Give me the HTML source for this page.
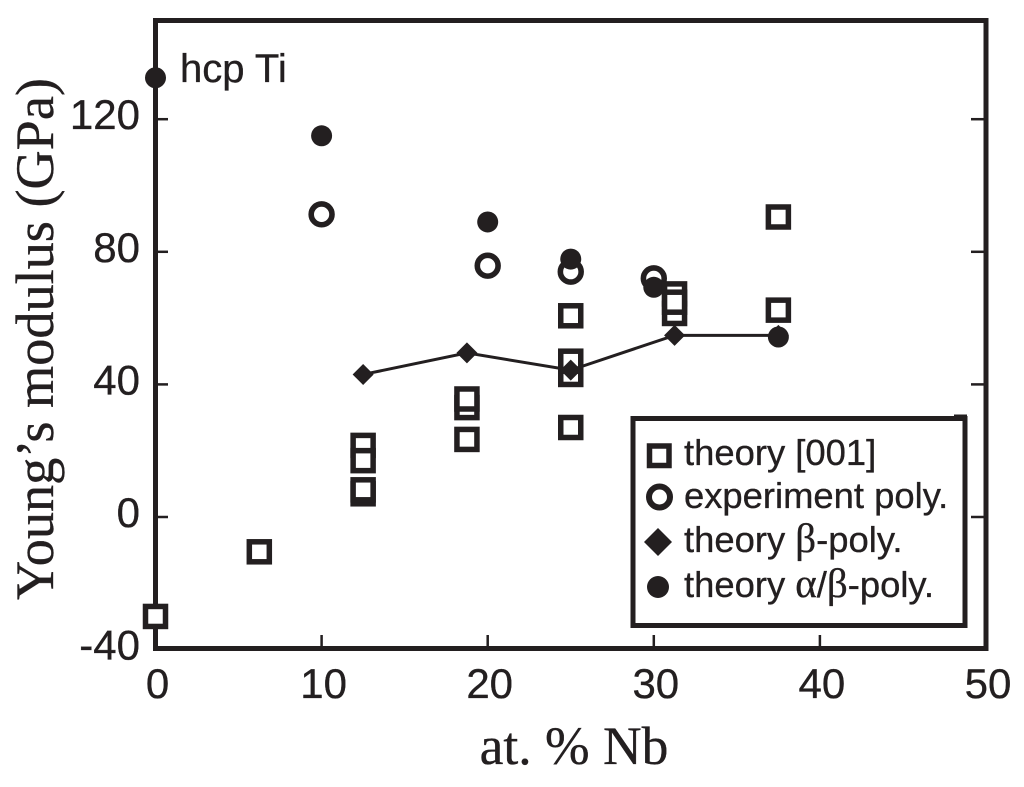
<!DOCTYPE html>
<html>
<head>
<meta charset="utf-8">
<title>Young's modulus vs at. % Nb</title>
<style>
html,body{margin:0;padding:0;background:#fff;}
svg{display:block;}
text{fill:#231f20;stroke:#231f20;stroke-width:0.35px;}
.sans{font-family:"Liberation Sans",sans-serif;}
.serif{font-family:"Liberation Serif",serif;}
</style>
</head>
<body>
<svg id="chart" xmlns="http://www.w3.org/2000/svg" width="1024" height="787" viewBox="0 0 1024 787">
  <rect x="0" y="0" width="1024" height="787" fill="#fff"/>
  <g id="ticks"></g>
  <g id="tick-labels"></g>
  <rect x="155.5" y="20.5" width="830.5" height="628" fill="none" stroke="#231f20" stroke-width="5"/>
  <text class="serif" font-size="53.5" transform="translate(53,339) rotate(-90)" text-anchor="middle" textLength="522" lengthAdjust="spacingAndGlyphs">Young’s modulus (GPa)</text>
  <text class="serif" font-size="53.5" x="574" y="764" text-anchor="middle">at. % Nb</text>
  <text class="sans" font-size="40" x="180" y="82">hcp Ti</text>
  <g id="series-experiment"></g>
  <g id="series-alpha"></g>
  <g id="series-squares"></g>
  <g id="series-beta"></g>
  <g>
    <line x1="954" y1="416" x2="967" y2="416" stroke="#231f20" stroke-width="3"/>
    <rect x="633" y="418.5" width="332" height="207" fill="#fff" stroke="#231f20" stroke-width="5"/>
    <rect x="649.5" y="446" width="19.5" height="19.5" fill="#fff" stroke="#231f20" stroke-width="5.5"/>
    <circle cx="659.5" cy="497" r="10.5" fill="#fff" stroke="#231f20" stroke-width="6"/>
    <polygon points="658,528 672,542 658,556 644,542" fill="#231f20"/>
    <circle cx="658" cy="587" r="11" fill="#231f20"/>
    <text class="sans" font-size="36.4" x="684" y="465">theory [001]</text>
    <text class="sans" font-size="36.4" x="684" y="508">experiment poly.</text>
    <text class="sans" font-size="36.4" x="684" y="552">theory <tspan class="serif" font-size="41">β</tspan>-poly.</text>
    <text class="sans" font-size="36.4" x="684" y="597">theory <tspan class="serif" font-size="41">α</tspan>/<tspan class="serif" font-size="41">β</tspan>-poly.</text>
  </g>
</svg>
<script>
var xTickValues = [0, 10, 20, 30, 40, 50];
var yTickValues = [-40, 0, 40, 80, 120];

var squareNb = [0, 6.25, 12.5, 12.5, 12.5, 12.5, 18.75, 18.75, 18.75, 25, 25, 25, 25, 31.25, 31.25, 31.25, 37.5, 37.5];
var squareModulus = [-30, -10.5, 21.6, 17, 7, 8.2, 33, 35.6, 23.4, 60.7, 43, 47, 27, 67.3, 61.4, 64.8, 90.5, 62.4];

var experimentNb = [10, 20, 25, 30];
var experimentModulus = [91.3, 75.8, 74, 72];

var alphaNb = [0, 10, 20, 25, 30, 37.5];
var alphaModulus = [132.5, 115, 89, 77.8, 69.3, 54.3];

var betaNb = [12.5, 18.75, 25, 31.25, 37.5];
var betaModulus = [43, 49.5, 44.3, 54.8, 54.8];

var INK = '#231f20';
var SVGNS = 'http://www.w3.org/2000/svg';

function xScale(v) { return 155.5 + v * (986 - 155.5) / 50; }
function yScale(v) { return 517 - v * 3.315; }

function make(tag, parentId, attrs) {
  var el = document.createElementNS(SVGNS, tag);
  for (var k in attrs) { el.setAttribute(k, attrs[k]); }
  document.getElementById(parentId).appendChild(el);
  return el;
}

xTickValues.forEach(function (v) {
  var label = make('text', 'tick-labels', { x: xScale(v) + 2, y: 698, 'text-anchor': 'middle', 'font-size': 42, 'class': 'sans' });
  
  
  label.textContent = String(v);
  if (v > 0 && v < 50) {
    var tick = make('line', 'ticks', { x1: xScale(v), x2: xScale(v), y1: 635, y2: 648, stroke: INK, 'stroke-width': 2.5 });
    
    
  }
});

yTickValues.forEach(function (v) {
  var label = make('text', 'tick-labels', { x: 140, y: yScale(v) + 10, 'text-anchor': 'end', 'font-size': 42, 'class': 'sans' });
  
  
  label.textContent = String(v);
  if (v > -40) {
    var left = make('line', 'ticks', { x1: 156, x2: 168, y1: yScale(v), y2: yScale(v), stroke: INK, 'stroke-width': 2.5 });
    
    
    var right = make('line', 'ticks', { x1: 971, x2: 985, y1: yScale(v), y2: yScale(v), stroke: INK, 'stroke-width': 2.5 });
    
    
  }
});

experimentNb.forEach(function (nb, i) {
  var c = make('circle', 'series-experiment', { cx: xScale(nb), cy: yScale(experimentModulus[i]), r: 10.4, fill: '#fff', stroke: INK, 'stroke-width': 5.6 });
  
  
});

alphaNb.forEach(function (nb, i) {
  var c = make('circle', 'series-alpha', { cx: xScale(nb), cy: yScale(alphaModulus[i]), r: 10.5, fill: INK });
  
  
});

squareNb.forEach(function (nb, i) {
  var s = make('rect', 'series-squares', { x: xScale(nb) - 10, y: yScale(squareModulus[i]) - 10, width: 20, height: 20, fill: '#fff', stroke: INK, 'stroke-width': 5.5 });
  
  
});

var linePoints = betaNb.map(function (nb, i) { return xScale(nb) + ',' + yScale(betaModulus[i]); }).join(' ');
var betaLine = make('polyline', 'series-beta', { points: linePoints, fill: 'none', stroke: INK, 'stroke-width': 3 });



betaNb.forEach(function (nb, i) {
  var x = xScale(nb), y = yScale(betaModulus[i]), h = 10.5;
  var d = make('polygon', 'series-beta', { points: x + ',' + (y - h) + ' ' + (x + h) + ',' + y + ' ' + x + ',' + (y + h) + ' ' + (x - h) + ',' + y, fill: INK });
  
  
});
</script>
</body>
</html>
